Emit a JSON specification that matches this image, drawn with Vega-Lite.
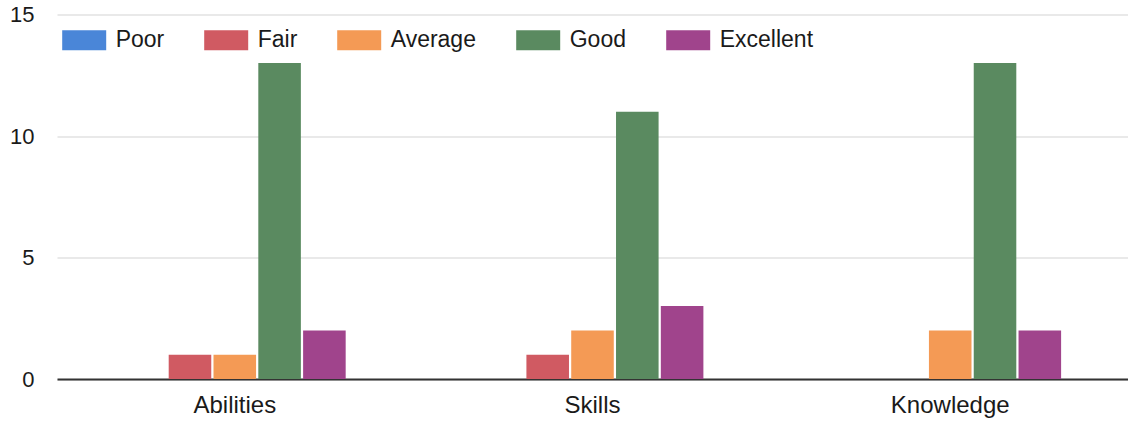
{
  "$schema": "https://vega.github.io/schema/vega-lite/v6.json",
  "autosize": "none",
  "padding": {"left": 57, "top": 14.5, "right": 0, "bottom": 44},
  "width": 1071,
  "height": 364.5,
  "background": "white",
  "config": {
    "font": "Liberation Sans",
    "view": {"stroke": null}
  },
  "data": {
    "values": [
      {"category": "Abilities", "rating": "Poor", "count": 0},
      {"category": "Abilities", "rating": "Fair", "count": 1},
      {"category": "Abilities", "rating": "Average", "count": 1},
      {"category": "Abilities", "rating": "Good", "count": 13},
      {"category": "Abilities", "rating": "Excellent", "count": 2},
      {"category": "Skills", "rating": "Poor", "count": 0},
      {"category": "Skills", "rating": "Fair", "count": 1},
      {"category": "Skills", "rating": "Average", "count": 2},
      {"category": "Skills", "rating": "Good", "count": 11},
      {"category": "Skills", "rating": "Excellent", "count": 3},
      {"category": "Knowledge", "rating": "Poor", "count": 0},
      {"category": "Knowledge", "rating": "Fair", "count": 0},
      {"category": "Knowledge", "rating": "Average", "count": 2},
      {"category": "Knowledge", "rating": "Good", "count": 13},
      {"category": "Knowledge", "rating": "Excellent", "count": 2}
    ]
  },
  "mark": {"type": "bar"},
  "encoding": {
    "x": {
      "field": "category",
      "type": "nominal",
      "sort": ["Abilities", "Skills", "Knowledge"],
      "scale": {"paddingInner": 0.38, "paddingOuter": 0.187},
      "axis": {
        "title": null,
        "labelAngle": 0,
        "labelFontSize": 24,
        "labelColor": "#1a1a1a",
        "labelPadding": 14,
        "ticks": false,
        "domain": true,
        "domainColor": "#333333",
        "domainWidth": 2,
        "grid": false
      }
    },
    "xOffset": {
      "field": "rating",
      "type": "nominal",
      "sort": ["Poor", "Fair", "Average", "Good", "Excellent"],
      "scale": {"paddingInner": 0.05}
    },
    "y": {
      "field": "count",
      "type": "quantitative",
      "scale": {"domain": [0, 15], "nice": false},
      "axis": {
        "title": null,
        "values": [0, 5, 10, 15],
        "labelFontSize": 22,
        "labelColor": "#1a1a1a",
        "labelPadding": 23,
        "ticks": false,
        "domain": false,
        "gridColor": "#e2e2e2",
        "gridWidth": 1.5
      }
    },
    "color": {
      "field": "rating",
      "type": "nominal",
      "sort": ["Poor", "Fair", "Average", "Good", "Excellent"],
      "scale": {
        "domain": ["Poor", "Fair", "Average", "Good", "Excellent"],
        "range": ["#4a86d8", "#d05a62", "#f49a55", "#5a8a60", "#a0448c"]
      },
      "legend": {
        "title": null,
        "orient": "none",
        "direction": "horizontal",
        "legendX": 15.7,
        "legendY": 14,
        "padding": 0,
        "symbolType": "M-2.2,-1H2.2V1H-2.2Z",
        "symbolSize": 400,
        "symbolStrokeWidth": 0,
        "symbolOpacity": 1,
        "labelFontSize": 23,
        "labelColor": "#1a1a1a",
        "labelOffset": 20,
        "columnPadding": 39
      }
    }
  }
}
